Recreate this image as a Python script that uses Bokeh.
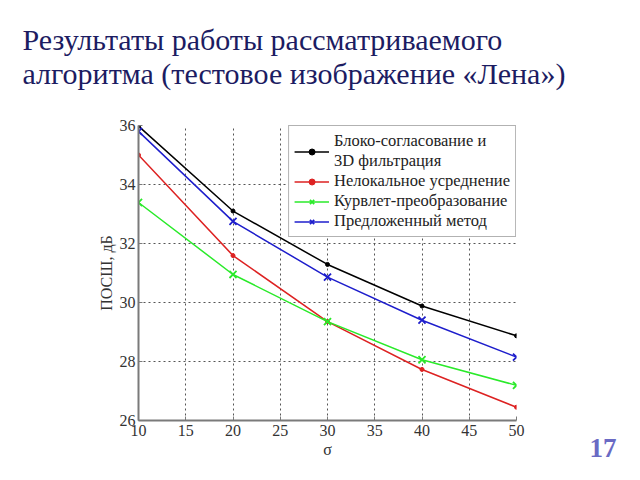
from bokeh.plotting import figure
from bokeh.models import Legend, LegendItem, FixedTicker, Range1d, Title
from bokeh.embed import file_html
from bokeh.resources import INLINE

sigma = [10, 20, 30, 40, 50]
bm3d = [35.98, 33.1, 31.29, 29.88, 28.87]
nlm = [35.0, 31.59, 29.35, 27.73, 26.45]
curvelet = [33.39, 30.95, 29.35, 28.06, 27.19]
proposed = [35.8, 32.75, 30.86, 29.4, 28.15]

names = ["Блоко-согласование и\n3D фильтрация", "Нелокальное усреднение",
         "Курвлет-преобразование", "Предложенный метод"]
x_ticks = [10, 15, 20, 25, 30, 35, 40, 45, 50]
y_ticks = [26, 28, 30, 32, 34, 36]

title_lines = ["Результаты работы рассматриваемого",
               "алгоритма (тестовое изображение «Лена»)"]
x_label = "σ"
y_label = "ПОСШ, дБ"
slide_no = "17"

SERIF = "Liberation Serif"

p = figure(width=640, height=480, output_backend="svg", toolbar_location=None,
           x_range=Range1d(10, 50), y_range=Range1d(26, 36),
           min_border_left=138, min_border_right=124, min_border_top=125,
           min_border_bottom=60)
p.outline_line_color = None
p.background_fill_color = "white"
p.border_fill_color = "white"

for ax in (p.xaxis[0], p.yaxis[0]):
    ax.axis_line_color = "#7a7a7a"
    ax.axis_line_width = 2
    ax.major_tick_line_color = "#7a7a7a"
    ax.major_tick_in = 4
    ax.major_tick_out = 0
    ax.minor_tick_line_color = None
    ax.major_label_text_font = SERIF
    ax.major_label_text_font_size = "16px"
    ax.major_label_text_color = "#333333"
    ax.axis_label_text_font = SERIF
    ax.axis_label_text_font_size = "16px"
    ax.axis_label_text_font_style = "normal"
    ax.axis_label_text_color = "#333333"

p.xaxis.ticker = FixedTicker(ticks=x_ticks)
p.yaxis.ticker = FixedTicker(ticks=y_ticks)
p.xaxis.axis_label = x_label
p.yaxis.axis_label = y_label
p.xaxis.major_label_standoff = 4
p.xaxis.axis_label_standoff = 2
p.yaxis.major_label_standoff = 3
p.yaxis.axis_label_standoff = 2

for g in (p.xgrid[0], p.ygrid[0]):
    g.grid_line_color = "#555555"
    g.grid_line_dash = "2 3"
    g.grid_line_width = 1

series = [
    (bm3d, "#000000", "dot"),
    (nlm, "#dd2222", "dot"),
    (curvelet, "#2aea2a", "x"),
    (proposed, "#1e1ecc", "x"),
]

items = []
for (vals, color, mk), name in zip(series, names):
    r1 = p.line(sigma, vals, line_color=color, line_width=1.5)
    if mk == "dot":
        r2 = p.scatter(sigma, vals, marker="circle", size=4, fill_color=color,
                       line_color=color)
    else:
        r2 = p.scatter(sigma, vals, marker="x", size=10, line_color=color,
                       line_width=1.8)
    items.append(LegendItem(label=name, renderers=[r1, r2]))

legend = Legend(items=items, location="top_right", margin=0, padding=5,
                spacing=0, glyph_width=35, glyph_height=15, label_standoff=5,
                label_text_font=SERIF, label_text_font_size="16.5px",
                label_text_color="#222222", label_height=15,
                label_text_line_height=1.0,
                border_line_color="#666666", border_line_width=1,
                background_fill_color="white", background_fill_alpha=1)
p.add_layout(legend, "center")

# spacer between frame and title, then the two title lines
spacer = Title(text=" ", standoff=16, text_font_size="10px")
t2 = Title(text=title_lines[1], align="left", offset=-116, standoff=14,
           text_font=SERIF, text_font_size="30px", text_font_style="normal",
           text_color="#1c1c62")
t1 = Title(text=title_lines[0], align="left", offset=-116, standoff=-16,
           text_font=SERIF, text_font_size="30px", text_font_style="normal",
           text_color="#1c1c62")
p.add_layout(spacer, "above")
p.add_layout(t2, "above")
p.add_layout(t1, "above")

# slide number below the axis
num = Title(text=slide_no, align="right", offset=-100, standoff=-44,
            vertical_align="top", text_font=SERIF, text_font_size="27px",
            text_font_style="bold", text_color="#6a6ac4")
p.add_layout(num, "below")

open("out.html", "w").write(file_html(p, INLINE))
